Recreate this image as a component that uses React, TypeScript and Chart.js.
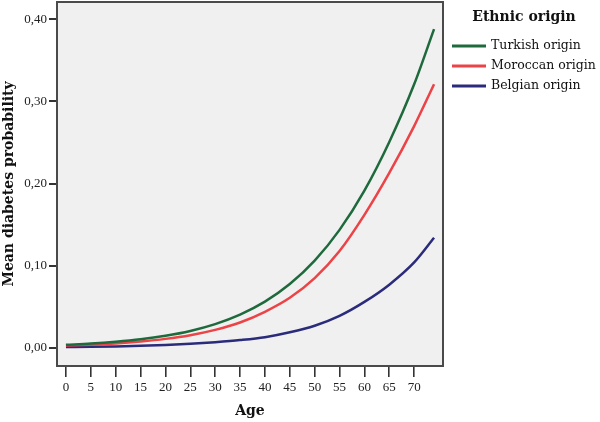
import React, { useEffect, useRef } from "react";
import { Chart, registerables } from "chart.js";

Chart.register(...registerables);

const ages = [0, 5, 10, 15, 20, 25, 30, 35, 40, 45, 50, 55, 60, 65, 70, 74];
const turkish = [0.0038, 0.0053, 0.0075, 0.0105, 0.0148, 0.0207, 0.029, 0.0405, 0.0563, 0.0777, 0.1062, 0.1437, 0.1915, 0.2507, 0.3208, 0.388];
const moroccan = [0.003, 0.004, 0.0055, 0.0078, 0.011, 0.0155, 0.022, 0.031, 0.044, 0.061, 0.085, 0.118, 0.162, 0.213, 0.27, 0.321];
const belgian = [0.001, 0.0013, 0.0018, 0.0025, 0.0035, 0.005, 0.007, 0.0095, 0.013, 0.019, 0.027, 0.039, 0.056, 0.077, 0.104, 0.134];
const seriesNames = ["Turkish origin", "Moroccan origin", "Belgian origin"];
const seriesColors = ["#1e6a3c", "#ec4347", "#2b2b7c"];
const xTicks = [0, 5, 10, 15, 20, 25, 30, 35, 40, 45, 50, 55, 60, 65, 70];
const yTicks = [0, 0.1, 0.2, 0.3, 0.4];
const legendTitle = "Ethnic origin";
const xTitle = "Age";
const yTitle = "Mean diabetes probability";

const FONT = "'Liberation Serif', 'DejaVu Serif', serif";
const WIDE = "'DejaVu Serif', 'Liberation Serif', serif";

const framePlugin = {
  id: "frame",
  beforeDatasetsDraw(chart: any) {
    const { ctx, chartArea: a } = chart;
    ctx.save();
    ctx.fillStyle = "#f0f0f0";
    ctx.fillRect(a.left, a.top, a.right - a.left, a.bottom - a.top);
    ctx.strokeStyle = "#4a4a4a";
    ctx.lineWidth = 2;
    ctx.strokeRect(a.left, a.top, a.right - a.left, a.bottom - a.top);
    ctx.restore();
  },
};

const legendPlugin = {
  id: "customLegend",
  afterDraw(chart: any) {
    const { ctx } = chart;
    ctx.save();
    ctx.fillStyle = "#111";
    ctx.textBaseline = "middle";
    ctx.font = `bold 14px ${WIDE}`;
    ctx.textAlign = "center";
    ctx.fillText(legendTitle, 524, 17);
    ctx.textAlign = "left";
    ctx.font = `12.5px ${WIDE}`;
    chart.data.datasets.forEach((ds: any, i: number) => {
      const y = 46 + i * 20;
      ctx.strokeStyle = ds.borderColor;
      ctx.lineWidth = 3;
      ctx.beginPath();
      ctx.moveTo(452, y);
      ctx.lineTo(486, y);
      ctx.stroke();
      ctx.fillStyle = "#111";
      ctx.fillText(ds.label, 491, y);
    });
    ctx.restore();
  },
};

export default function App() {
  const ref = useRef<HTMLCanvasElement>(null);
  useEffect(() => {
    if (!ref.current) return;
    const seriesData = [turkish, moroccan, belgian];
    const chart = new Chart(ref.current, {
      type: "line",
      data: {
        datasets: seriesData.map((vals, i) => ({
          label: seriesNames[i],
          data: ages.map((a, j) => ({ x: a, y: vals[j] })),
          borderColor: seriesColors[i],
          borderWidth: 2.5,
          pointRadius: 0,
          fill: false,
          cubicInterpolationMode: "monotone" as const,
        })),
      },
      options: {
        responsive: false,
        animation: false,
        layout: { padding: { top: 2, right: 157, left: 0, bottom: 0 } },
        plugins: { legend: { display: false }, tooltip: { enabled: false } },
        scales: {
          x: {
            type: "linear",
            min: -1.8,
            max: 75.8,
            afterBuildTicks: (s: any) => {
              s.ticks = xTicks.map((v) => ({ value: v }));
            },
            afterFit: (s: any) => {
              s.height = 56;
              s.paddingLeft = 0;
              s.paddingRight = 0;
            },
            grid: {
              drawOnChartArea: false,
              drawTicks: true,
              tickLength: 11,
              color: "#333",
              lineWidth: 1.6,
            },
            border: { display: false },
            ticks: {
              color: "#222",
              font: { family: FONT, size: 13 },
              padding: 3,
              maxRotation: 0,
              autoSkip: false,
              callback: (v: any) => String(v),
            },
            title: {
              display: true,
              text: xTitle,
              color: "#111",
              font: { family: WIDE, size: 14, weight: "bold" },
              padding: { top: 4, bottom: 2 },
            },
          },
          y: {
            type: "linear",
            min: -0.022,
            max: 0.421,
            afterBuildTicks: (s: any) => {
              s.ticks = yTicks.map((v) => ({ value: v }));
            },
            afterFit: (s: any) => {
              s.width = 57;
              s.paddingTop = 0;
              s.paddingBottom = 0;
            },
            grid: {
              drawOnChartArea: false,
              drawTicks: true,
              tickLength: 8,
              color: "#333",
              lineWidth: 2,
            },
            border: { display: false },
            ticks: {
              color: "#222",
              font: { family: FONT, size: 13 },
              padding: 2,
              callback: (v: any) => Number(v).toFixed(2).replace(".", ","),
            },
            title: {
              display: true,
              text: yTitle,
              color: "#111",
              font: { family: WIDE, size: 14, weight: "bold" },
              padding: { top: 1, bottom: 0 },
            },
          },
        },
      },
      plugins: [framePlugin, legendPlugin],
    } as any);
    return () => chart.destroy();
  }, []);
  return (
    <div style={{ position: "absolute", left: 0, top: 0, width: 600, height: 422, background: "#fff" }}>
      <canvas ref={ref} width={600} height={422} style={{ display: "block" }} />
    </div>
  );
}
